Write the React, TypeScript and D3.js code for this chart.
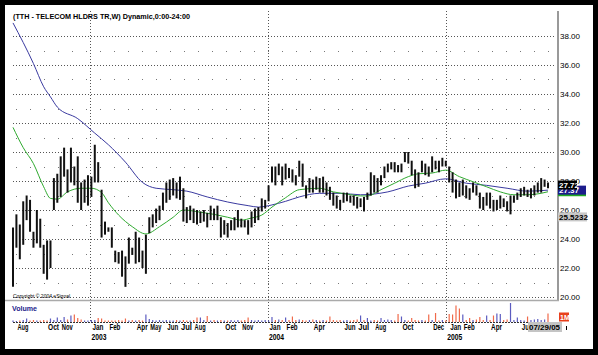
import { useEffect, useRef } from 'react';
import * as d3 from 'd3';

// weekly bars, first one ends on this Friday
const firstWeek = '2002-07-26';

const highs = [
	24.8, 25.7, 25.0, 26.6, 27.0, 26.7, 24.5, 26.0, 25.4, 23.6, 23.9, 23.9, 28.2, 28.5, 29.7, 30.3, 28.8, 30.3, 29.0, 29.7,
	27.9, 28.1, 28.4, 28.3, 30.5, 29.3, 27.4, 25.2, 24.8, 24.8, 23.2, 23.1, 23.2, 22.8, 24.1, 23.4, 24.5, 24.1, 23.2, 24.3,
	25.5, 25.7, 26.1, 26.3, 27.2, 27.9, 28.1, 28.2, 27.9, 28.3, 27.5, 26.2, 26.3, 26.1, 26.0, 25.9, 26.0, 25.8, 26.3, 26.1,
	26.3, 25.5, 25.3, 25.1, 25.3, 25.5, 26.0, 25.4, 25.3, 25.3, 25.9, 26.1, 26.2, 26.8, 26.7, 27.7, 29.0, 29.0, 29.2, 29.0,
	29.2, 28.9, 28.8, 28.4, 29.4, 29.2, 27.7, 28.2, 28.1, 28.3, 28.2, 28.3, 27.9, 27.6, 27.2, 27.0, 26.7, 27.2, 27.2, 27.0,
	27.0, 26.9, 26.8, 26.9, 27.2, 28.6, 28.4, 28.2, 28.4, 29.0, 29.2, 29.3, 29.3, 29.1, 29.2, 30.0, 30.0, 29.4, 28.8, 28.6,
	29.4, 29.2, 29.0, 29.7, 29.4, 29.4, 29.6, 29.4, 29.0, 28.6, 28.1, 27.9, 28.1, 27.7, 27.5, 27.9, 27.7, 27.2, 26.9, 27.2,
	27.2, 26.7, 26.7, 27.0, 26.8, 26.6, 27.0, 27.0, 27.2, 27.5, 27.6, 27.4, 27.5, 27.7, 27.9, 28.2, 28.1, 27.9,
];
const lows = [
	20.7, 23.4, 22.6, 23.6, 25.3, 24.5, 23.4, 23.7, 23.4, 21.6, 21.2, 22.0, 26.0, 26.5, 26.9, 28.3, 27.2, 27.9, 27.7, 26.5,
	26.0, 26.5, 26.3, 26.9, 27.9, 27.9, 24.1, 24.3, 24.5, 23.4, 22.4, 22.3, 21.4, 20.7, 22.3, 22.9, 22.3, 22.4, 22.0, 21.6,
	24.4, 24.8, 25.1, 25.3, 26.0, 26.5, 26.7, 27.0, 26.8, 26.7, 25.2, 25.1, 25.3, 25.1, 25.0, 25.1, 25.2, 24.8, 25.3, 25.3,
	25.3, 24.1, 24.3, 24.1, 24.6, 24.6, 24.8, 24.8, 24.8, 24.3, 24.8, 25.1, 25.3, 25.9, 26.1, 26.6, 27.9, 27.7, 28.4, 27.7,
	28.1, 28.2, 27.9, 27.7, 28.3, 27.6, 26.8, 27.2, 27.2, 27.4, 27.2, 27.2, 27.0, 26.7, 26.3, 26.1, 26.0, 26.5, 26.6, 26.5,
	26.3, 26.1, 26.2, 25.9, 26.7, 27.0, 27.2, 27.2, 27.7, 28.2, 28.6, 28.8, 28.6, 28.6, 28.6, 29.3, 29.2, 28.4, 27.5, 27.6,
	28.6, 28.4, 28.3, 28.6, 28.8, 28.6, 29.0, 29.0, 27.9, 27.2, 26.8, 26.9, 27.0, 26.8, 26.7, 27.2, 27.0, 26.1, 26.0, 26.3,
	26.1, 25.9, 26.0, 26.1, 26.2, 25.9, 25.7, 26.5, 26.7, 26.9, 27.0, 26.9, 26.8, 27.0, 27.2, 27.2, 27.6, 27.5,
];
// weekly volume, millions of shares
const volumes = [
	0.3, 0.2, 0.3, 0.4, 0.7, 0.3, 0.4, 0.3, 0.3, 0.4,
	0.3, 0.7, 0.4, 0.9, 0.4, 1.0, 0.5, 1.3, 1.5, 0.8,
	0.5, 0.3, 0.3, 0.4, 0.4, 0.8, 0.7, 0.3, 0.3, 0.3,
	0.3, 0.4, 0.3, 0.7, 0.3, 0.4, 0.3, 0.4, 0.3, 1.5,
	0.6, 0.4, 0.3, 0.4, 0.3, 0.4, 0.3, 0.3, 0.4, 0.3,
	0.4, 0.3, 0.3, 0.4, 0.9, 0.9, 0.4, 1.2, 0.3, 0.4,
	0.3, 0.4, 0.3, 0.3, 0.4, 0.3, 0.4, 0.3, 0.4, 0.9,
	0.4, 0.3, 0.4, 0.3, 0.4, 0.3, 1.0, 0.4, 0.5, 0.4,
	0.9, 0.4, 1.1, 0.4, 0.5, 0.4, 0.3, 0.4, 0.5, 0.4,
	0.3, 0.4, 0.3, 1.1, 0.4, 0.3, 0.4, 0.3, 0.4, 0.3,
	0.4, 0.5, 1.3, 0.4, 0.8, 0.3, 0.4, 0.3, 0.8, 0.4,
	0.5, 0.4, 0.3, 1.6, 1.1, 0.4, 0.3, 0.8, 0.4, 0.3,
	0.4, 0.3, 1.5, 0.4, 1.8, 0.3, 0.4, 0.3, 1.6, 1.5,
	3.3, 2.7, 1.5, 0.4, 0.8, 0.4, 0.5, 1.0, 0.4, 1.3,
	0.4, 1.3, 1.7, 1.6, 0.4, 0.5, 3.8, 0.4, 0.9, 0.4,
	0.3, 1.1, 0.4, 0.5, 0.6, 0.4, 0.5, 1.7,
];

// moving averages at a handful of weeks
const slowMaWeeks = [0, 6, 9, 11, 13, 19, 24, 28, 33, 38, 42, 47, 51, 57, 63, 69, 72, 76, 80, 84, 90, 96, 102, 110, 116, 121, 127, 133, 139, 145, 151, 157];
const slowMaValues = [38.9, 36.1, 34.5, 33.8, 33.1, 32.3, 31.3, 30.5, 29.3, 27.9, 27.5, 27.4, 27.3, 26.9, 26.55, 26.3, 26.2, 26.35, 26.6, 26.9, 27.15, 27.15, 27.05, 27.25, 27.65, 27.85, 28.15, 27.85, 27.7, 27.5, 27.3, 27.37];
const fastMaWeeks = [0, 3, 6, 9, 11, 13, 16, 20, 23, 26, 28, 31, 35, 39, 43, 47, 50, 55, 59, 63, 67, 70, 73, 76, 80, 84, 90, 94, 98, 102, 104, 108, 112, 116, 119, 123, 127, 131, 135, 139, 143, 147, 151, 155, 157];
const fastMaValues = [31.7, 30.3, 29.2, 27.6, 26.8, 26.75, 27.25, 27.5, 27.5, 27.2, 26.5, 25.65, 24.85, 24.35, 24.85, 25.5, 26.0, 25.85, 25.7, 25.5, 25.3, 25.45, 25.65, 26.2, 26.85, 27.4, 27.5, 27.25, 27.1, 26.97, 26.97, 27.4, 27.85, 28.3, 28.5, 28.55, 28.75, 28.3, 27.95, 27.6, 27.25, 27.05, 27.05, 27.15, 27.26];

const priceTicks = [20, 22, 24, 26, 28, 30, 32, 34, 36, 38];
const minorTicks = [21, 23, 25, 27, 29, 31, 33, 35, 37];
const monthLabels = [
	'2002-08', '2002-10', '2002-11',
	'2003-01', '2003-02', '2003-04', '2003-05', '2003-06', '2003-07', '2003-08', '2003-10', '2003-11',
	'2004-01', '2004-02', '2004-04', '2004-06', '2004-07', '2004-08', '2004-10', '2004-12',
	'2005-01', '2005-02', '2005-04', '2005-06',
];
const yearLabels = [2003, 2004, 2005];
const lastClose = 27.72;
const lastSlow = 27.37;
const lastFast = 27.26;
const markerLevel = 25.5232;

const W = 598;
const H = 355;

const TelecomChart = () => {
	const svgRef = useRef(null);

	useEffect(() => {
		const start = d3.timeParse('%Y-%m-%d')(firstWeek);
		const dates = highs.map((_, i) => d3.timeWeek.offset(start, i));
		const n = dates.length;

		const x = d3.scaleTime().domain([dates[0], dates[n - 1]]).range([13, 548]);
		const y = d3.scaleLinear().domain([20, 38]).range([297, 36]);
		const yv = d3.scaleLinear().domain([0, 4]).range([322, 302]);

		const svg = d3.select(svgRef.current);
		svg.selectAll('*').remove();

		svg.append('rect').attr('width', W).attr('height', H).attr('fill', '#000');
		svg.append('rect').attr('x', 5).attr('y', 5).attr('width', 588).attr('height', 344).attr('fill', '#fff');

		const font = "'Liberation Sans', Arial, sans-serif";

		// title
		svg
			.append('text')
			.attr('x', 13)
			.attr('y', 19)
			.attr('font-family', font)
			.attr('font-size', 8)
			.attr('font-weight', 'bold')
			.attr('textLength', 177)
			.attr('lengthAdjust', 'spacingAndGlyphs')
			.text('(TTH - TELECOM HLDRS TR,W) Dynamic,0:00-24:00');

		// grid
		const grid = svg.append('g').attr('shape-rendering', 'crispEdges');
		grid
			.selectAll('line.major')
			.data(priceTicks)
			.join('line')
			.attr('x1', 13)
			.attr('x2', 556)
			.attr('y1', d => Math.round(y(d)) + 0.5)
			.attr('y2', d => Math.round(y(d)) + 0.5)
			.attr('stroke', '#555')
			.attr('stroke-dasharray', '1 2');
		grid
			.selectAll('line.minor')
			.data(minorTicks)
			.join('line')
			.attr('x1', 16)
			.attr('x2', 556)
			.attr('y1', d => Math.round(y(d)) + 0.5)
			.attr('y2', d => Math.round(y(d)) + 0.5)
			.attr('stroke', '#777')
			.attr('stroke-dasharray', '1 13');
		grid
			.selectAll('line.year')
			.data(yearLabels)
			.join('line')
			.attr('x1', d => Math.round(x(new Date(d, 0, 1))) + 0.5)
			.attr('x2', d => Math.round(x(new Date(d, 0, 1))) + 0.5)
			.attr('y1', 11)
			.attr('y2', 322)
			.attr('stroke', '#555')
			.attr('stroke-dasharray', '1 2');

		// axis frame
		svg.append('line').attr('x1', 558).attr('x2', 558).attr('y1', 11).attr('y2', 301).attr('stroke', '#999').attr('stroke-width', 2);
		svg.append('line').attr('x1', 5).attr('x2', 559).attr('y1', 300.5).attr('y2', 300.5).attr('stroke', '#aaa').attr('stroke-width', 1.5);

		svg
			.append('g')
			.selectAll('text')
			.data(priceTicks)
			.join('text')
			.attr('x', 560)
			.attr('y', d => y(d) + 3)
			.attr('font-family', font)
			.attr('font-size', 8)
			.text(d => d.toFixed(2));

		svg
			.append('text')
			.attr('x', 13)
			.attr('y', 298)
			.attr('font-family', font)
			.attr('font-size', 5)
			.text('Copyright © 2004 eSignal');

		// moving averages
		const line = d3
			.line()
			.x(d => x(dates[d[0]]))
			.y(d => y(d[1]))
			.curve(d3.curveMonotoneX);
		svg
			.append('path')
			.datum(slowMaWeeks.map((w, i) => [w, slowMaValues[i]]))
			.attr('d', line)
			.attr('fill', 'none')
			.attr('stroke', '#3a3aa0')
			.attr('stroke-width', 1);
		svg
			.append('path')
			.datum(fastMaWeeks.map((w, i) => [w, fastMaValues[i]]))
			.attr('d', line)
			.attr('fill', 'none')
			.attr('stroke', '#2faa2f')
			.attr('stroke-width', 1);

		// price bars
		svg
			.append('g')
			.selectAll('line')
			.data(d3.range(n))
			.join('line')
			.attr('x1', i => x(dates[i]))
			.attr('x2', i => x(dates[i]))
			.attr('y1', i => y(highs[i]))
			.attr('y2', i => y(lows[i]))
			.attr('stroke', '#111')
			.attr('stroke-width', 2);

		// value flags on the axis
		const flag = (v, w, fill, color, label) => {
			svg.append('rect').attr('x', 558).attr('y', y(v) - 4.5).attr('width', w).attr('height', 9).attr('fill', fill);
			svg
				.append('text')
				.attr('x', 559)
				.attr('y', y(v) + 3)
				.attr('font-family', font)
				.attr('font-size', 8)
				.attr('font-weight', 'bold')
				.attr('fill', color)
				.text(label);
		};
		flag(markerLevel, 29, '#c8c8c8', '#000', '25.5232');
		flag(lastFast, 28, '#22aa22', '#fff', '');
		flag(lastSlow, 28, '#1c1c8c', '#fff', lastSlow.toFixed(2));
		flag(lastClose, 19, '#000', '#fff', lastClose.toFixed(2));

		// volume pane
		svg
			.append('text')
			.attr('x', 12)
			.attr('y', 311)
			.attr('font-family', font)
			.attr('font-size', 8)
			.attr('font-weight', 'bold')
			.attr('fill', '#1c1c8c')
			.attr('textLength', 25)
			.attr('lengthAdjust', 'spacingAndGlyphs')
			.text('Volume');
		svg
			.append('line')
			.attr('x1', 13)
			.attr('x2', 556)
			.attr('y1', 322.5)
			.attr('y2', 322.5)
			.attr('stroke', '#333')
			.attr('stroke-dasharray', '2 1');
		svg
			.append('g')
			.selectAll('line')
			.data(d3.range(n))
			.join('line')
			.attr('x1', i => x(dates[i]))
			.attr('x2', i => x(dates[i]))
			.attr('y1', yv(0))
			.attr('y2', i => yv(volumes[i]))
			.attr('stroke', i => (i > 0 && highs[i] + lows[i] < highs[i - 1] + lows[i - 1] ? '#f06a4a' : '#5c5cc0'))
			.attr('stroke-width', 1.2);

		// time axis
		const monthDate = d3.timeParse('%Y-%m');
		svg
			.append('g')
			.selectAll('text')
			.data(monthLabels)
			.join('text')
			.attr('x', m => {
				const first = monthDate(m);
				const bar = dates.find(d => d >= first);
				return x(bar) + 1;
			})
			.attr('y', 330)
			.attr('font-family', font)
			.attr('font-size', 8.5)
			.attr('font-weight', 'bold')
			.attr('textLength', 11)
			.attr('lengthAdjust', 'spacingAndGlyphs')
			.text(m => d3.timeFormat('%b')(monthDate(m)));
		svg
			.append('g')
			.selectAll('text')
			.data(yearLabels)
			.join('text')
			.attr('x', d => x(new Date(d, 0, 1)) + 1)
			.attr('y', 340)
			.attr('font-family', font)
			.attr('font-size', 8.5)
			.attr('font-weight', 'bold')
			.attr('textLength', 15)
			.attr('lengthAdjust', 'spacingAndGlyphs')
			.text(d => d);

		const lastDate = dates[n - 1];
		svg.append('rect').attr('x', 528).attr('y', 322).attr('width', 34).attr('height', 10).attr('fill', '#c4c4c4');
		svg
			.append('text')
			.attr('x', 529)
			.attr('y', 330)
			.attr('font-family', font)
			.attr('font-size', 8)
			.attr('font-weight', 'bold')
			.attr('textLength', 31)
			.attr('lengthAdjust', 'spacingAndGlyphs')
			.text(d3.timeFormat('%m/%d/%y')(lastDate));
		svg.append('line').attr('x1', 566.5).attr('x2', 566.5).attr('y1', 326).attr('y2', 330).attr('stroke', '#000');
		svg.append('rect').attr('x', 559).attr('y', yv(1) - 4.5).attr('width', 10).attr('height', 9).attr('fill', '#e8401c');
		svg
			.append('text')
			.attr('x', 560)
			.attr('y', yv(1) + 3)
			.attr('font-family', font)
			.attr('font-size', 7)
			.attr('font-weight', 'bold')
			.attr('fill', '#fff')
			.text('1M');
	}, []);

	return <svg ref={svgRef} width={W} height={H} style={{ position: 'absolute', left: 0, top: 0 }}></svg>;
};

export default function App() {
	return <TelecomChart />;
}
